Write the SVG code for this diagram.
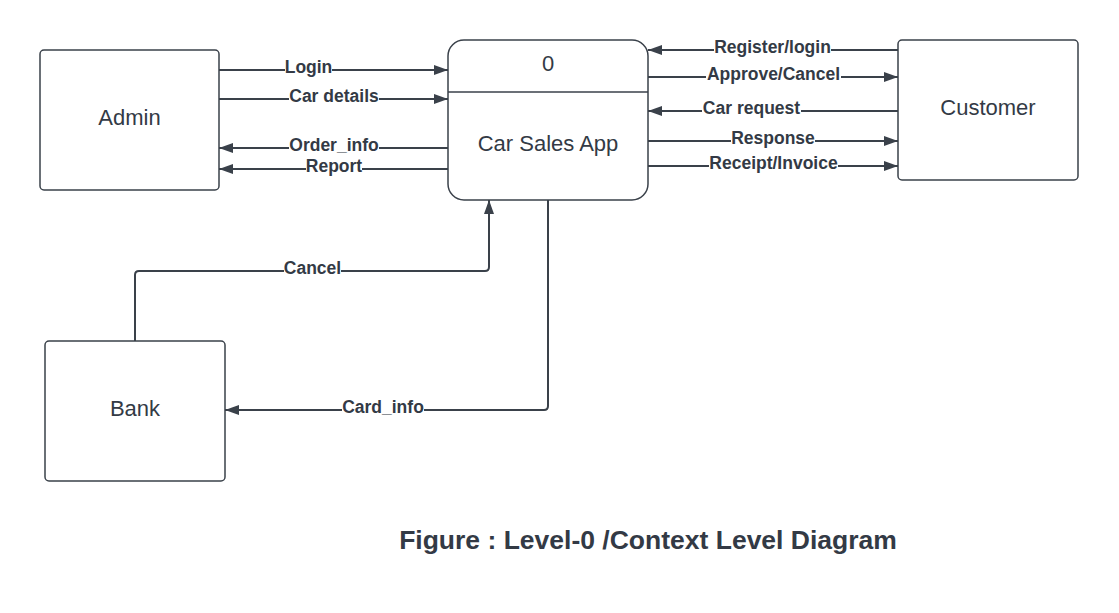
<svg xmlns="http://www.w3.org/2000/svg" width="1119" height="613" viewBox="0 0 1119 613">
<defs>
<marker id="ah" markerWidth="14" markerHeight="10" refX="14" refY="5" orient="auto" markerUnits="userSpaceOnUse">
<path d="M0,0 L14,5 L0,10 Z" fill="#3a414a"/>
</marker>
<style>
.box{fill:#fff;stroke:#3a414a;stroke-width:1.5}
.ln{fill:none;stroke:#3a414a;stroke-width:2;marker-end:url(#ah)}
.nt{font-family:"Liberation Sans",Arial,sans-serif;font-size:22px;fill:#333a45;text-anchor:middle}
.el{font-family:"Liberation Sans",Arial,sans-serif;font-size:17.5px;font-weight:bold;fill:#333a45;text-anchor:middle}
.bg{fill:#fff}
.tt{font-family:"Liberation Sans",Arial,sans-serif;font-size:26.5px;font-weight:bold;fill:#333a45;text-anchor:middle}
</style>
</defs>
<rect width="1119" height="613" fill="#fff"/>
<g id="connectors">
<line class="ln" x1="219" y1="70" x2="448" y2="70"/>
<line class="ln" x1="219" y1="99" x2="448" y2="99"/>
<line class="ln" x1="448" y1="148" x2="219" y2="148"/>
<line class="ln" x1="448" y1="169" x2="219" y2="169"/>
<line class="ln" x1="898" y1="50" x2="648" y2="50"/>
<line class="ln" x1="648" y1="77" x2="898" y2="77"/>
<line class="ln" x1="898" y1="111" x2="648" y2="111"/>
<line class="ln" x1="648" y1="141" x2="898" y2="141"/>
<line class="ln" x1="648" y1="166" x2="898" y2="166"/>
<path class="ln" d="M135,341 V275 Q135,271 139,271 H485 Q489,271 489,267 V200"/>
<path class="ln" d="M548,200 V406 Q548,410 544,410 H225"/>
<g id="labels">
<rect class="bg" x="285" y="61" width="47" height="16"/><text class="el" x="308.5" y="73">Login</text>
<rect class="bg" x="289" y="90" width="90" height="16"/><text class="el" x="334" y="102">Car details</text>
<rect class="bg" x="289" y="139" width="90" height="16"/><text class="el" x="334" y="151">Order_info</text>
<rect class="bg" x="306" y="160" width="56" height="16"/><text class="el" x="334" y="172">Report</text>
<rect class="bg" x="714" y="41" width="117" height="16"/><text class="el" x="772.5" y="53">Register/login</text>
<rect class="bg" x="706" y="68" width="135" height="16"/><text class="el" x="773.5" y="80">Approve/Cancel</text>
<rect class="bg" x="702" y="102" width="99" height="16"/><text class="el" x="751.5" y="114">Car request</text>
<rect class="bg" x="731" y="132" width="84" height="16"/><text class="el" x="773" y="144">Response</text>
<rect class="bg" x="709" y="157" width="129" height="16"/><text class="el" x="773.5" y="169">Receipt/Invoice</text>
<rect class="bg" x="284" y="262" width="57" height="16"/><text class="el" x="312.5" y="274">Cancel</text>
<rect class="bg" x="342" y="401" width="82" height="16"/><text class="el" x="383" y="413">Card_info</text>
</g>
</g>
<g id="admin">
<rect class="box" x="40" y="50" width="179" height="140" rx="4"/>
<text class="nt" x="129.5" y="125">Admin</text>
</g>
<g id="app">
<rect class="box" x="448" y="40" width="200" height="160" rx="16"/>
<line x1="448" y1="92" x2="648" y2="92" stroke="#3a414a" stroke-width="1.5"/>
<text class="nt" x="548" y="71">0</text>
<text class="nt" x="548" y="151">Car Sales App</text>
</g>
<g id="customer">
<rect class="box" x="898" y="40" width="180" height="140" rx="4"/>
<text class="nt" x="988" y="115">Customer</text>
</g>
<g id="bank">
<rect class="box" x="45" y="341" width="180" height="140" rx="4"/>
<text class="nt" x="135" y="416">Bank</text>
</g>
<text class="tt" x="648" y="549">Figure : Level-0 /Context Level Diagram</text>
</svg>
